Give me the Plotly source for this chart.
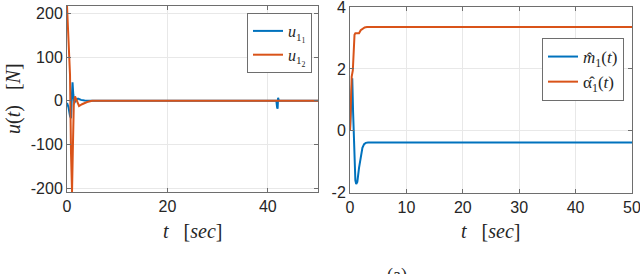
import plotly.graph_objects as go

# ---- data ----
t_u11 = [0, 0.3, 0.6, 0.8, 0.95, 1.1, 1.25, 1.45, 1.8, 2.2, 2.8, 3.5, 5, 41.7, 41.85, 41.95, 42.05, 42.2, 50]
u11 = [-5, -15, -35, -40, 5, 42, 15, -5, 2, 5, 2, 0.5, 0, 0, -15, -18, 7, 0, 0]

t_u12 = [0, 0.2, 0.45, 0.6, 0.8, 1.0, 1.15, 1.35, 1.6, 2.0, 2.4, 3.0, 4.0, 5.0, 50]
u12 = [217, 170, 130, 60, -120, -209, -120, -10, 10, -2, -12, -8, -3, 0, 0]

t_m1 = [0, 0.2, 0.4, 0.55, 0.75, 0.95, 1.1, 1.3, 1.6, 1.9, 2.2, 2.5, 2.8, 3.2, 50]
m1 = [0, 1.2, 1.7, 0.6, -0.9, -1.6, -1.72, -1.65, -1.2, -0.8, -0.55, -0.43, -0.39, -0.38, -0.38]

t_a1 = [0, 0.15, 0.3, 0.5, 0.65, 0.8, 0.95, 1.6, 1.9, 2.2, 2.6, 3.0, 50]
a1 = [0, 1.2, 1.75, 1.95, 2.6, 3.1, 3.15, 3.15, 3.25, 3.3, 3.34, 3.35, 3.35]

left_xticks = [0, 20, 40]
left_yticks = [-200, -100, 0, 100, 200]
right_xticks = [0, 10, 20, 30, 40, 50]
right_yticks = [-2, 0, 2, 4]

BLUE = '#0072BD'
ORANGE = '#D95319'
TXT = '#262626'
W, H = 640, 274
SANS = '"Liberation Sans", Arial, Helvetica, sans-serif'
SERIF = '"Liberation Serif", "Times New Roman", "DejaVu Serif", serif'

fig = go.Figure()
fig.add_trace(go.Scatter(x=t_u11, y=u11, mode='lines', line=dict(color=BLUE, width=2),
                         name='<i>u</i><sub>1<sub>1</sub></sub>', xaxis='x', yaxis='y', legend='legend'))
fig.add_trace(go.Scatter(x=t_u12, y=u12, mode='lines', line=dict(color=ORANGE, width=2),
                         name='<i>u</i><sub>1<sub>2</sub></sub>', xaxis='x', yaxis='y', legend='legend'))
fig.add_trace(go.Scatter(x=t_m1, y=m1, mode='lines', line=dict(color=BLUE, width=2),
                         name='<i>m\u0302</i><sub>1</sub>(<i>t</i>)', xaxis='x2', yaxis='y2', legend='legend2'))
fig.add_trace(go.Scatter(x=t_a1, y=a1, mode='lines', line=dict(color=ORANGE, width=2),
                         name='\u03b1\u0302<sub>1</sub>(<i>t</i>)', xaxis='x2', yaxis='y2', legend='legend2'))

def fmt(v):
    return ('-' + str(abs(v))) if v < 0 else str(v)

axis_common = dict(showline=True, linecolor='#6e6e6e', linewidth=1, mirror='ticks',
                   ticks='inside', ticklen=4, tickcolor='#6e6e6e',
                   showgrid=True, gridcolor='#e8e8e8', gridwidth=1, zeroline=False,
                   ticklabeloverflow='allow', automargin=False,
                   tickfont=dict(family=SANS, size=16, color=TXT))

def px_x(p):
    return p / W

def px_y(p):
    return (H - p) / H

fig.update_layout(
    width=W, height=H, margin=dict(l=0, r=0, t=0, b=0, autoexpand=False),
    plot_bgcolor='white', paper_bgcolor='white',
    xaxis=dict(domain=[px_x(67), px_x(318)], range=[0, 50], anchor='y',
               tickvals=left_xticks, ticktext=[fmt(v) for v in left_xticks], **axis_common),
    yaxis=dict(domain=[px_y(192), px_y(6)], range=[-209, 217], anchor='x',
               tickvals=left_yticks, ticktext=[fmt(v) for v in left_yticks], **axis_common),
    xaxis2=dict(domain=[px_x(350), px_x(632)], range=[0, 50], anchor='y2',
                tickvals=right_xticks, ticktext=[fmt(v) for v in right_xticks], **axis_common),
    yaxis2=dict(domain=[px_y(192.7), px_y(7)], range=[-2, 4], anchor='x2',
                tickvals=right_yticks, ticktext=[fmt(v) for v in right_yticks], **axis_common),
    legend=dict(x=px_x(312), y=px_y(13), xanchor='right', yanchor='top',
                bgcolor='white', bordercolor='#6e6e6e', borderwidth=1,
                font=dict(family=SERIF, size=16, color=TXT),
                itemwidth=30, tracegroupgap=0),
    legend2=dict(x=px_x(624), y=px_y(38), xanchor='right', yanchor='top',
                 bgcolor='white', bordercolor='#6e6e6e', borderwidth=1,
                 font=dict(family=SERIF, size=17, color=TXT),
                 itemwidth=30, tracegroupgap=0),
    showlegend=True,
)

lab_font = dict(family=SERIF, size=20, color=TXT)
fig.add_annotation(text='<i>u</i>(<i>t</i>)   [<i>N</i>]', xref='paper', yref='paper',
                   x=px_x(14), y=px_y(99), textangle=-90, showarrow=False,
                   xanchor='center', yanchor='middle', font=lab_font)
fig.add_annotation(text='<i>t</i>   [<i>sec</i>]', xref='paper', yref='paper',
                   x=px_x(192), y=px_y(231), showarrow=False,
                   xanchor='center', yanchor='middle', font=lab_font)
fig.add_annotation(text='<i>t</i>   [<i>sec</i>]', xref='paper', yref='paper',
                   x=px_x(490), y=px_y(231), showarrow=False,
                   xanchor='center', yanchor='middle', font=lab_font)
fig.add_annotation(text='(a)', xref='paper', yref='paper',
                   x=px_x(397), y=px_y(263), showarrow=False,
                   xanchor='center', yanchor='top', font=dict(family=SERIF, size=18, color=TXT))

page_css = ("document.documentElement.style.margin='0';"
            "document.documentElement.style.padding='0';"
            "document.documentElement.style.overflow='hidden';"
            "document.body.style.margin='0';"
            "document.body.style.padding='0';"
            "document.body.style.overflow='hidden';")
fig.write_html('out.html', config={'displayModeBar': False}, post_script=page_css)
